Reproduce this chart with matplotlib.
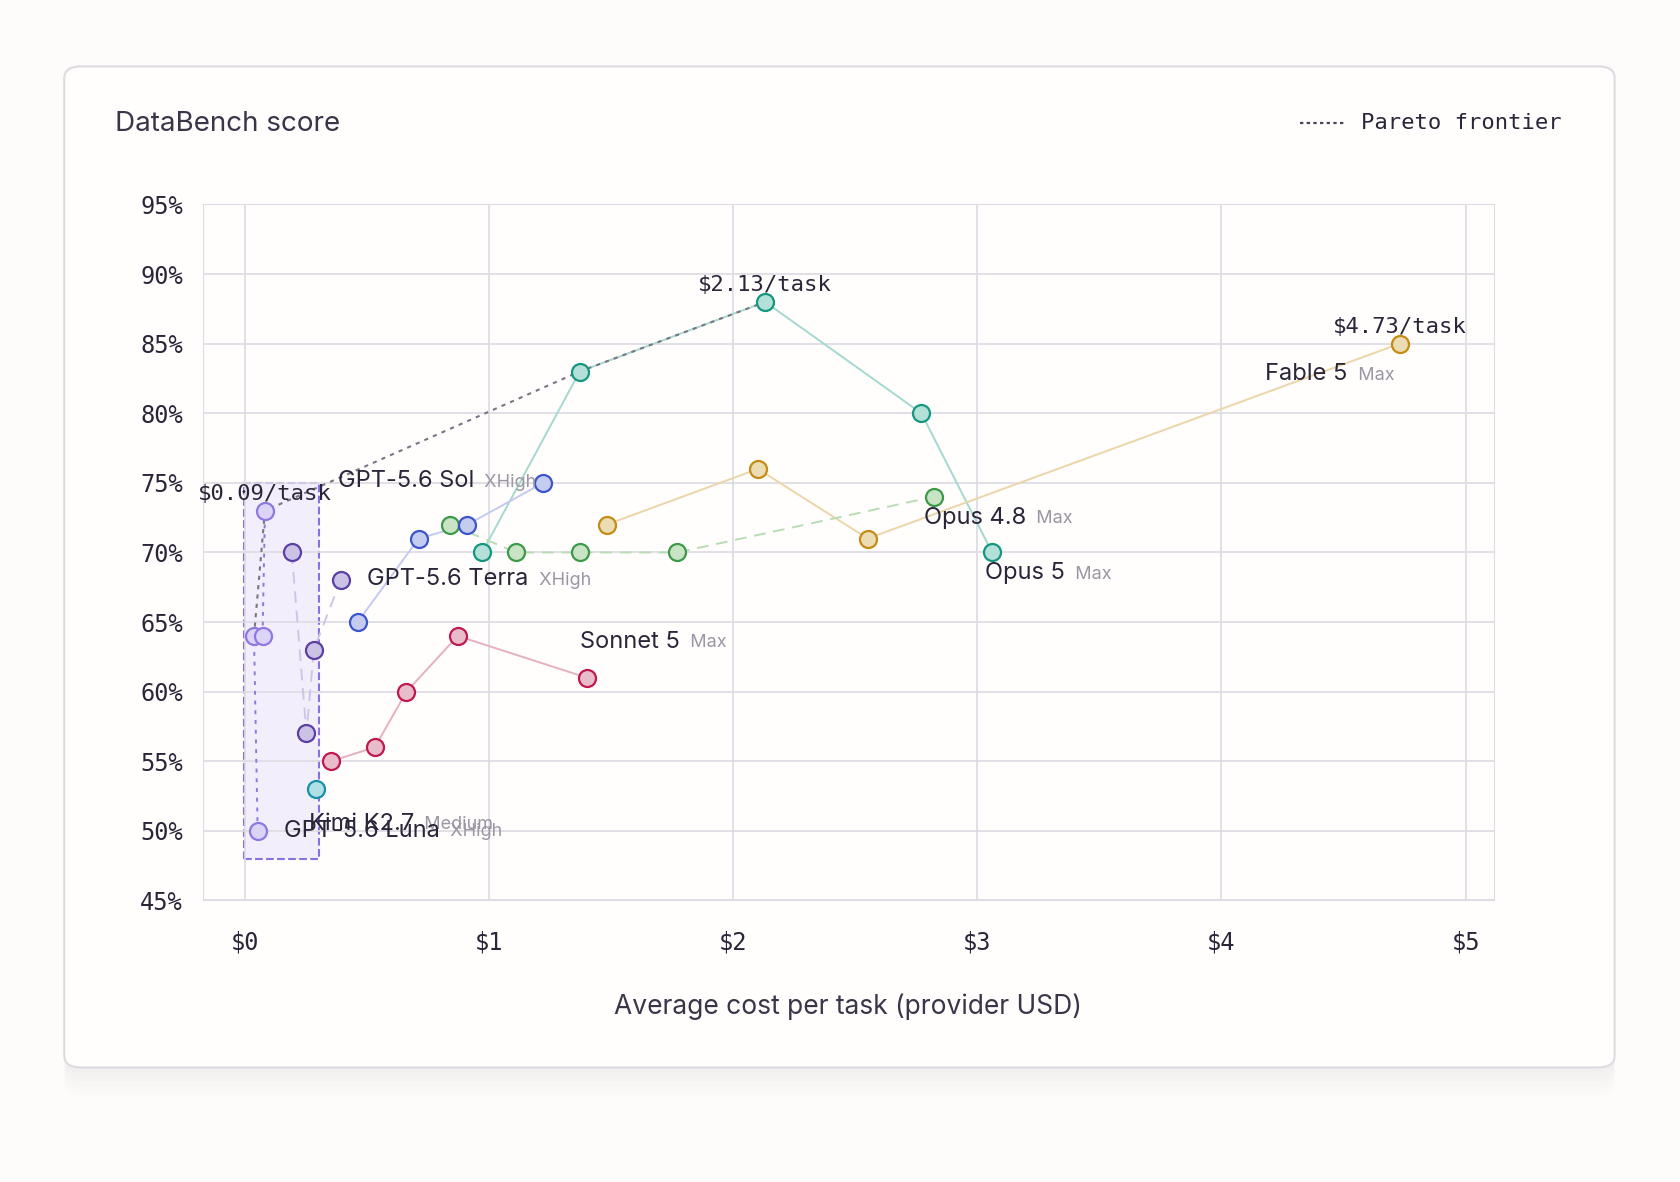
import matplotlib
matplotlib.use("Agg")
import matplotlib.pyplot as plt
from matplotlib.patches import FancyBboxPatch, Rectangle

# data (cost in USD, score in %)
opus5_x = [0.97, 1.37, 2.13, 2.77, 3.06]
opus5_y = [70, 83, 88, 80, 70]
fable5_x = [1.48, 2.10, 2.55, 4.73]
fable5_y = [72, 76, 71, 85]
opus48_x = [0.84, 1.11, 1.37, 1.77, 2.82]
opus48_y = [72, 70, 70, 70, 74]
sol_x = [0.46, 0.71, 0.91, 1.22]
sol_y = [65, 71, 72, 75]
terra_x = [0.19, 0.25, 0.28, 0.39]
terra_y = [70, 57, 63, 68]
luna_x = [0.05, 0.035, 0.07, 0.08]
luna_y = [50, 64, 64, 73]
sonnet_x = [0.35, 0.53, 0.66, 0.87, 1.40]
sonnet_y = [55, 56, 60, 64, 61]
kimi_x = [0.29]
kimi_y = [53]
pareto_x = [0.035, 0.08, 1.37, 2.13]
pareto_y = [64, 73, 83, 88]
xticks = [0, 1, 2, 3, 4, 5]
yticks = [45, 50, 55, 60, 65, 70, 75, 80, 85, 90, 95]

W, H = 1568, 1104
fig = plt.figure(figsize=(16.8, 11.82), dpi=100)
fig.patch.set_facecolor("#fdfcfb")

# card with soft shadow
for i in range(6):
    fig.patches.append(FancyBboxPatch((60 / W, 1 - 997 / H - 0.004 * (i + 1)), 1447 / W, 935 / H,
                                      boxstyle="round,pad=0,rounding_size=0.01", transform=fig.transFigure,
                                      facecolor="black", edgecolor="none", alpha=0.008, zorder=0))
fig.patches.append(FancyBboxPatch((60 / W, 1 - 997 / H), 1447 / W, 935 / H,
                                  boxstyle="round,pad=0,rounding_size=0.01", transform=fig.transFigure,
                                  facecolor="#fffefd", edgecolor="#dcdbe0", lw=1.5, zorder=1))

ax = fig.add_axes([189 / W, 1 - 841 / H, (1394 - 189) / W, (841 - 191) / H])
ax.set_facecolor("none")
ax.set_zorder(2)
ax.set_xlim(-0.176, 5.115)
ax.set_ylim(45, 95)
ax.set_xticks(xticks)
ax.set_yticks(yticks)
ax.set_xticklabels([f"${v}" for v in xticks], family="DejaVu Sans Mono", fontsize=17, color="#2a2538")
ax.set_yticklabels([f"{v}%" for v in yticks], family="DejaVu Sans Mono", fontsize=17, color="#2a2538")
ax.tick_params(length=0, pad=14)
ax.tick_params(axis="x", pad=22)
ax.grid(True, color="#dddbe3", lw=1.2)
for s in ax.spines.values():
    s.set_color("#dddbe3")
ax.set_xlabel("Average cost per task (provider USD)", fontsize=19, color="#3a3548", labelpad=28, family="Inter")

# highlight box
ax.add_patch(Rectangle((-0.005, 48), 0.305, 27, facecolor="#f3eefb", edgecolor="#8a70e0",
                       ls="--", lw=1.5, zorder=1))


def series(x, y, face, edge, line, ls="-"):
    ax.plot(x, y, color=line, lw=1.4, ls=ls, zorder=3)
    ax.scatter(x, y, s=150, facecolor=face, edgecolor=edge, lw=1.6, zorder=5)


series(opus5_x, opus5_y, "#b3e0d8", "#13977f", "#a6d8cf")
series(fable5_x, fable5_y, "#ecdcb4", "#c38c12", "#ecd5a8")
series(opus48_x, opus48_y, "#c8e4c4", "#3c9a48", "#b8dcb4", ls=(0, (6, 4)))
series(sol_x, sol_y, "#c4ccf0", "#3d55cc", "#c4caf0")
series(terra_x, terra_y, "#cbc2e6", "#5b3fa4", "#cfc6e6", ls=(0, (6, 4)))
series(luna_x, luna_y, "#dcd4f6", "#8f78e0", "#8f78e0", ls=(0, (2, 3)))
series(sonnet_x, sonnet_y, "#e8bccb", "#c0184f", "#e6b0c2")
series(kimi_x, kimi_y, "#b0dfe6", "#1592a8", "#b0dfe6")
ax.plot(pareto_x, pareto_y, color="#7a7584", lw=1.5, ls=(0, (2, 2.5)), zorder=4)


def label(x, y, name, tag):
    t = ax.annotate(name, (x, y), fontsize=17, color="#2a2538", family="Inter", ha="left", va="center", zorder=6)
    ax.annotate("  " + tag, xy=(1, 0.45), xycoords=t, fontsize=13, color="#9a96a4", family="Inter",
                va="center", ha="left", zorder=6)


label(0.38, 75.1, "GPT-5.6 Sol", "XHigh")
label(0.50, 68.1, "GPT-5.6 Terra", "XHigh")
label(1.37, 63.6, "Sonnet 5", "Max")
label(4.18, 82.8, "Fable 5", "Max")
label(2.78, 72.5, "Opus 4.8", "Max")
label(3.03, 68.5, "Opus 5", "Max")
label(0.26, 50.5, "Kimi K2.7", "Medium")
label(0.16, 50, "GPT-5.6 Luna", "XHigh")

for x, y, txt in [(0.08, 74.2, "$0.09/task"), (2.13, 89.2, "$2.13/task"), (4.73, 86.2, "$4.73/task")]:
    ax.text(x, y, txt, family="DejaVu Sans Mono", fontsize=16, color="#2a2538", ha="center", va="center", zorder=6)

fig.text(107 / W, 1 - 116 / H, "DataBench score", fontsize=20, color="#3a3548", family="Inter", va="center")
fig.lines.append(plt.Line2D([1213 / W, 1255 / W], [1 - 115 / H] * 2, transform=fig.transFigure,
                            color="#4a4558", lw=1.6, ls=(0, (1.5, 1.5))))
fig.text(1270 / W, 1 - 115 / H, "Pareto frontier", fontsize=16, color="#2a2538", family="DejaVu Sans Mono",
         va="center")

fig.savefig("out.png", dpi=100, facecolor=fig.get_facecolor())
